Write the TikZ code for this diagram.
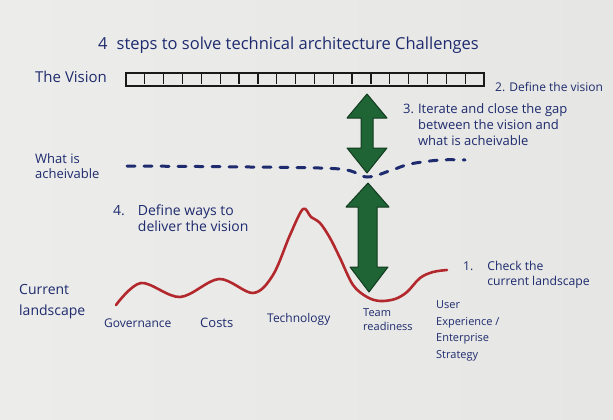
\documentclass[tikz,border=0pt]{standalone}
\usepackage{fontspec}
\setmainfont{Open Sans}
\definecolor{paper}{HTML}{E6E6E4}
\definecolor{paperlight}{HTML}{ECECEA}
\definecolor{ink}{HTML}{1E2B6E}
\definecolor{redline}{HTML}{B3282C}
\definecolor{arrowgreen}{HTML}{1E6434}
\definecolor{arrowedge}{HTML}{123B20}
\definecolor{barline}{HTML}{1A1A1A}
\newcommand{\fs}[2]{\fontsize{#1}{#2}\selectfont}
\begin{document}
\begin{tikzpicture}[x=1pt,y=-1pt,
  lbl/.style={text=ink,inner sep=0pt,anchor=west,align=left},
  greenarrow/.style={fill=arrowgreen,draw=arrowedge,line width=1pt,line join=round},
  redcurve/.style={draw=redline,line width=2.6pt,line cap=round,line join=round},
  dashcurve/.style={draw=ink,line width=3pt,line cap=round,dash pattern=on 8pt off 9pt}]
\useasboundingbox (0,0) rectangle (613,420);
\shade[left color=paperlight,right color=paper] (0,0) rectangle (613,420);

% title
\node[lbl,font=\fs{16.5}{19}] (title) at (98,45) {4\hspace{9pt}steps to solve technical architecture Challenges};

% vision bar
\node[lbl,font=\fs{15}{18}] (vision) at (35,77) {The Vision};
\draw[barline,line width=1.8pt] (126,73) rectangle (484,86);
\foreach \i in {1,...,18}{
  \draw[barline,line width=1.3pt] ({126+\i*358/19},73) -- ({126+\i*358/19},84);
}
\node[lbl,font=\fs{12}{14}] (step2) at (495,87) {2. Define the vision};

% step 3
\node[lbl,font=\fs{13}{16}] (step3) at (403,126) {\begin{tabular}{@{}l@{\hspace{4pt}}l@{}}3. & Iterate and close the gap\\ & between the vision and\\ & what is acheivable\end{tabular}};

% what is achievable
\node[lbl,font=\fs{13}{15}] (achv) at (35,166) {What is\\acheivable};
\draw[dashcurve] plot[smooth,tension=0.55] coordinates {(127,166) (250,167) (340,169) (367,177) (392,170) (410,164) (440,160) (465,160)};

% red landscape curve
\draw[redcurve] plot[smooth,tension=0.55] coordinates {(116,305) (141,283) (180,297) (219,279) (253,293) (273,275) (290,235) (303,209) (311,217) (320,223) (330,238) (340,258) (353,285) (367,297) (380,301) (395,299) (407,292) (420,278) (433,272) (447,270)};

% green arrows
\draw[greenarrow] (367,94) -- (387,118) -- (373,118) -- (373,148) -- (387,148) -- (367,173) -- (347,148) -- (361,148) -- (361,118) -- (347,118) -- cycle;
\draw[greenarrow] (368,183) -- (389,207) -- (377,207) -- (377,267) -- (388,267) -- (369,292) -- (350,267) -- (358,267) -- (358,207) -- (346,207) -- cycle;

% step 4
\node[lbl,font=\fs{14}{16}] (step4) at (113,220) {\begin{tabular}{@{}l@{\hspace{13pt}}l@{}}4. & Define ways to\\ & deliver the vision\end{tabular}};

% step 1
\node[lbl,font=\fs{12.2}{15}] (step1) at (463,275) {\begin{tabular}{@{}l@{\hspace{14pt}}l@{}}1. & Check the\\ & current landscape\end{tabular}};

% current landscape
\node[lbl,font=\fs{14}{21}] (curr) at (19,302) {Current\\landscape};

% categories
\node[lbl,font=\fs{12}{15}] (gov) at (104,323) {Governance};
\node[lbl,font=\fs{13}{15}] (cost) at (200,323) {Costs};
\node[lbl,font=\fs{12}{15}] (tech) at (267,319) {Technology};
\node[lbl,font=\fs{11}{14}] (team) at (363,320) {Team\\readiness};
\node[lbl,font=\fs{11}{16.5}] (ux) at (436,331) {User\\Experience /\\Enterprise\\Strategy};
\end{tikzpicture}
\end{document}
